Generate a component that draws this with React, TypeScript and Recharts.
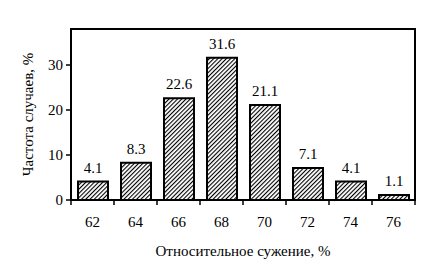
import React from "react";
import { BarChart, Bar, XAxis, YAxis, LabelList, ReferenceArea } from "recharts";

const categories = ["62", "64", "66", "68", "70", "72", "74", "76"];
const frequency = [4.1, 8.3, 22.6, 31.6, 21.1, 7.1, 4.1, 1.1];
const yTicks = [0, 10, 20, 30];

const data = categories.map((c, i) => ({ category: c, value: frequency[i] }));

const W = 430;
const H = 278;
const M = { top: 29, right: 15, left: 0, bottom: 0 };
const Y_AXIS_W = 71;
const font = "'Liberation Serif', 'Times New Roman', serif";

function CategoryTick(props: any) {
  const { x, y, payload, index } = props;
  const step = (W - M.left - M.right - Y_AXIS_W) / categories.length;
  const half = step / 2;
  return (
    <g>
      <line x1={x - half} x2={x - half} y1={y} y2={y + 5} stroke="#000" strokeWidth={1.5} />
      {index === categories.length - 1 && (
        <line x1={x + half} x2={x + half} y1={y} y2={y + 5} stroke="#000" strokeWidth={1.5} />
      )}
      <text x={x} y={y + 22} textAnchor="middle" dominantBaseline="central" fontSize={15} fontFamily={font} fill="#000">
        {payload.value}
      </text>
    </g>
  );
}

export default function App() {
  return (
    <div style={{ position: "absolute", left: 0, top: 0, background: "#fff" }}>
      <BarChart width={W} height={H} data={data} margin={M} barCategoryGap={0}>
        <defs>
          <pattern id="hatch" patternUnits="userSpaceOnUse" width={3} height={3} patternTransform="rotate(45)">
            <rect width={3} height={3} fill="#fff" />
            <line x1={0.5} y1={0} x2={0.5} y2={3} stroke="#000" strokeWidth={1.2} />
          </pattern>
        </defs>
        <XAxis
          dataKey="category"
          axisLine={{ stroke: "#000", strokeWidth: 2 }}
          tickLine={false}
          tickSize={0}
          tickMargin={0}
          height={78}
          tick={<CategoryTick />}
          interval={0}
          label={{ value: "Относительное сужение, %", position: "insideBottom", offset: 22, fontSize: 15, fontFamily: font, fill: "#000" }}
        />
        <YAxis
          domain={[0, 38]}
          ticks={yTicks}
          width={Y_AXIS_W}
          axisLine={{ stroke: "#000", strokeWidth: 2 }}
          tickLine={{ stroke: "#000", strokeWidth: 1.5 }}
          tickSize={5}
          tickMargin={3}
          tick={{ fontSize: 15, fontFamily: font, fill: "#000" }}
          label={{ value: "Частота случаев, %", angle: -90, position: "insideLeft", offset: 28, style: { textAnchor: "middle" }, fontSize: 15, fontFamily: font, fill: "#000" }}
        />
        <ReferenceArea y1={0} y2={38} fill="none" stroke="#000" strokeWidth={2} ifOverflow="visible" />
        <Bar dataKey="value" barSize={30} fill="url(#hatch)" stroke="#000" strokeWidth={2} isAnimationActive={false}>
          <LabelList dataKey="value" position="top" offset={9} fontSize={15} fontFamily={font} fill="#000" />
        </Bar>
      </BarChart>
    </div>
  );
}
